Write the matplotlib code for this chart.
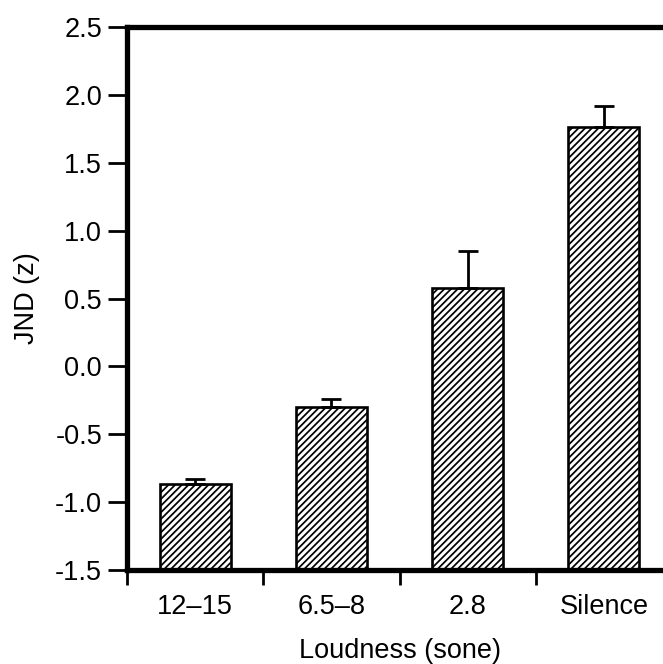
import matplotlib
matplotlib.use('Agg')
import matplotlib.pyplot as plt

# JND by loudness condition
categories = ['12\u201315', '6.5\u20138', '2.8', 'Silence']
jnd_means = [-0.87, -0.30, 0.58, 1.76]
jnd_err = [0.04, 0.06, 0.27, 0.16]
y_ticks = [-1.5, -1.0, -0.5, 0.0, 0.5, 1.0, 1.5, 2.0, 2.5]
baseline = -1.5

plt.rcParams['font.family'] = ['Liberation Sans', 'DejaVu Sans']
plt.rcParams['hatch.linewidth'] = 1.25

fig = plt.figure(figsize=(6.63, 6.64), dpi=100)
# the plot area runs a little past the right edge of the figure
ax = fig.add_axes([0.1916, 0.1416, 0.822, 0.8177])

x = list(range(len(categories)))
heights = [m - baseline for m in jnd_means]
ax.bar(x, heights, bottom=baseline, width=0.52, color='white',
       edgecolor='black', linewidth=1.9, hatch='/////', zorder=2)
ax.errorbar(x, jnd_means, yerr=[[0] * len(jnd_err), jnd_err], fmt='none',
            ecolor='black', elinewidth=2.0, capsize=7, capthick=2.0, zorder=3)

ax.set_xlim(-0.5, 3.5)
ax.set_ylim(-1.5, 2.5)
ax.set_yticks(y_ticks)
ax.set_yticklabels([f'{t:.1f}' for t in y_ticks])

# tick marks between the groups, labels under the bars
ax.set_xticks([i + 0.5 for i in range(-1, len(categories))])
ax.set_xticklabels([])
ax.set_xticks(x, minor=True)
ax.set_xticklabels(categories, minor=True)
ax.tick_params(axis='x', which='major', direction='out', length=11, width=2.0)
ax.tick_params(axis='x', which='minor', length=0, pad=17, labelsize=19.5)
ax.tick_params(axis='y', direction='out', length=14, width=2.0, pad=4, labelsize=19.5)

for side in ['left', 'top', 'bottom']:
    ax.spines[side].set_linewidth(3.8)
ax.spines['right'].set_visible(False)

ax.set_ylabel('JND (z)', fontsize=19.5, labelpad=11)
ax.set_xlabel('Loudness (sone)', fontsize=19.5, labelpad=13)

fig.savefig('out.png', dpi=100)
